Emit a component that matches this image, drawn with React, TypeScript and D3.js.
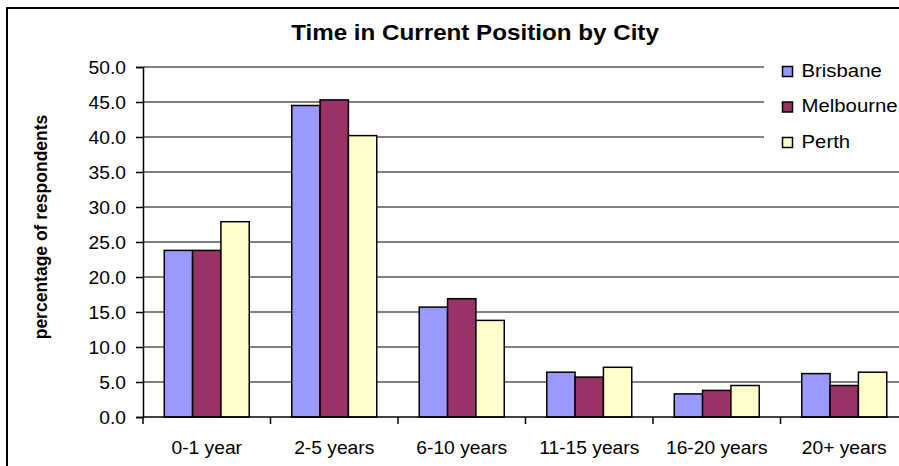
import { useEffect, useRef } from "react";
import * as d3 from "d3";

const categories = [
  "0-1 year",
  "2-5 years",
  "6-10 years",
  "11-15 years",
  "16-20 years",
  "20+ years",
];
const cities = ["Brisbane", "Melbourne", "Perth"];
const brisbane = [23.8, 44.5, 15.7, 6.4, 3.3, 6.2];
const melbourne = [23.8, 45.3, 16.9, 5.7, 3.8, 4.5];
const perth = [27.9, 40.2, 13.8, 7.1, 4.5, 6.4];
const yTicks = [0, 5, 10, 15, 20, 25, 30, 35, 40, 45, 50];
const colors = ["#9999ff", "#993366", "#ffffcc"];

const W = 899;
const H = 466;
const PLOT = { left: 143, right: 908, top: 67, bottom: 417 };
const FONT = "'Liberation Sans', Arial, Helvetica, sans-serif";
const STRETCH = 1.1; // the source text looks slightly wide

export default function App() {
  const svgRef = useRef<SVGSVGElement>(null);

  useEffect(() => {
    if (!svgRef.current) return;
    const svg = d3.select(svgRef.current);
    svg.selectAll("*").remove();

    const series = [brisbane, melbourne, perth];

    const x = d3
      .scaleBand<string>()
      .domain(categories)
      .range([PLOT.left, PLOT.right])
      .padding(0);

    // Excel style: gap width 150% -> 1.5 bar widths split around each group
    const bw = x.bandwidth() / 4.5;
    const xInner = d3
      .scaleBand<string>()
      .domain(cities)
      .range([bw * 0.75, x.bandwidth() - bw * 0.75])
      .padding(0);

    const y = d3
      .scaleLinear()
      .domain([0, 50])
      .range([PLOT.bottom, PLOT.top]);

    svg.append("rect").attr("width", W).attr("height", H).attr("fill", "#fff");

    // chart area border
    svg
      .append("rect")
      .attr("x", 7)
      .attr("y", 8)
      .attr("width", 960)
      .attr("height", 520)
      .attr("fill", "none")
      .attr("stroke", "#000")
      .attr("stroke-width", 2);

    // gridlines
    svg
      .append("g")
      .selectAll("line")
      .data(yTicks.filter((d) => d > 0))
      .join("line")
      .attr("x1", PLOT.left)
      .attr("x2", PLOT.right)
      .attr("y1", (d) => y(d))
      .attr("y2", (d) => y(d))
      .attr("stroke", "#808080")
      .attr("stroke-width", 2);

    // bars
    const groups = svg
      .append("g")
      .selectAll("g")
      .data(categories)
      .join("g")
      .attr("transform", (d) => `translate(${x(d)},0)`);

    groups
      .selectAll("rect")
      .data((_, i) => cities.map((c, s) => ({ city: c, s, v: series[s][i] })))
      .join("rect")
      .attr("x", (d) => xInner(d.city)!)
      .attr("y", (d) => y(d.v))
      .attr("width", xInner.bandwidth())
      .attr("height", (d) => y(0) - y(d.v))
      .attr("fill", (d) => colors[d.s])
      .attr("stroke", "#000")
      .attr("stroke-width", 1.5);

    // y axis
    svg
      .append("g")
      .attr("transform", `translate(${PLOT.left},0)`)
      .call(
        d3
          .axisLeft(y)
          .tickValues(yTicks)
          .tickSize(7)
          .tickFormat((d) => (d as number).toFixed(1))
      )
      .call((g) => g.select(".domain").attr("stroke", "#000").attr("stroke-width", 1.5))
      .call((g) => g.selectAll(".tick line").attr("stroke", "#000").attr("stroke-width", 1.5))
      .call((g) =>
        g
          .selectAll(".tick text")
          .attr("x", null)
          .attr("dy", "0.35em")
          .attr("transform", `translate(-17,0) scale(${STRETCH},1)`)
          .attr("fill", "#000")
          .attr("font-family", FONT)
          .attr("font-size", "17.5px")
      );

    // x axis: labels at band centres, ticks at band edges
    svg
      .append("g")
      .attr("transform", `translate(0,${PLOT.bottom})`)
      .call(d3.axisBottom(x).tickSize(0))
      .call((g) => g.select(".domain").remove())
      .call((g) =>
        g
          .selectAll(".tick text")
          .attr("y", null)
          .attr("dy", null)
          .attr("transform", `translate(0,37) scale(${STRETCH},1)`)
          .attr("fill", "#000")
          .attr("font-family", FONT)
          .attr("font-size", "17.5px")
      );

    const edges = [...categories.map((c) => x(c)!), x.range()[1]];
    svg
      .append("g")
      .selectAll("line")
      .data(edges)
      .join("line")
      .attr("x1", (d) => d)
      .attr("x2", (d) => d)
      .attr("y1", PLOT.bottom)
      .attr("y2", PLOT.bottom + 7)
      .attr("stroke", "#000")
      .attr("stroke-width", 1.5);

    svg
      .append("line")
      .attr("x1", PLOT.left)
      .attr("x2", PLOT.right)
      .attr("y1", PLOT.bottom)
      .attr("y2", PLOT.bottom)
      .attr("stroke", "#000")
      .attr("stroke-width", 1.5);

    // y axis title
    svg
      .append("text")
      .attr("transform", "translate(47,227) rotate(-90)")
      .attr("text-anchor", "middle")
      .attr("font-family", FONT)
      .attr("font-weight", "bold")
      .attr("font-size", "17.5px")
      .attr("fill", "#000")
      .text("percentage of respondents");

    // title
    svg
      .append("text")
      .attr("transform", `translate(475,40) scale(${STRETCH},1)`)
      .attr("text-anchor", "middle")
      .attr("font-family", FONT)
      .attr("font-weight", "bold")
      .attr("font-size", "22px")
      .attr("fill", "#000")
      .text("Time in Current Position by City");

    // legend (white box sits over the gridlines)
    const legend = svg.append("g");
    legend
      .append("rect")
      .attr("x", 764)
      .attr("y", 50)
      .attr("width", 140)
      .attr("height", 112)
      .attr("fill", "#fff");

    const rows = legend
      .selectAll("g.row")
      .data(cities)
      .join("g")
      .attr("class", "row")
      .attr("transform", (_, i) => `translate(782.5,${66.5 + i * 35.5})`);

    rows
      .append("rect")
      .attr("width", 10)
      .attr("height", 10)
      .attr("fill", (_, i) => colors[i])
      .attr("stroke", "#000")
      .attr("stroke-width", 1.5);

    rows
      .append("text")
      .attr("transform", `translate(19,10) scale(${STRETCH},1)`)
      .attr("font-family", FONT)
      .attr("font-size", "18.5px")
      .attr("fill", "#000")
      .text((d) => d);
  }, []);

  return (
    <svg
      ref={svgRef}
      width={W}
      height={H}
      style={{ position: "absolute", left: 0, top: 0, display: "block" }}
    />
  );
}
